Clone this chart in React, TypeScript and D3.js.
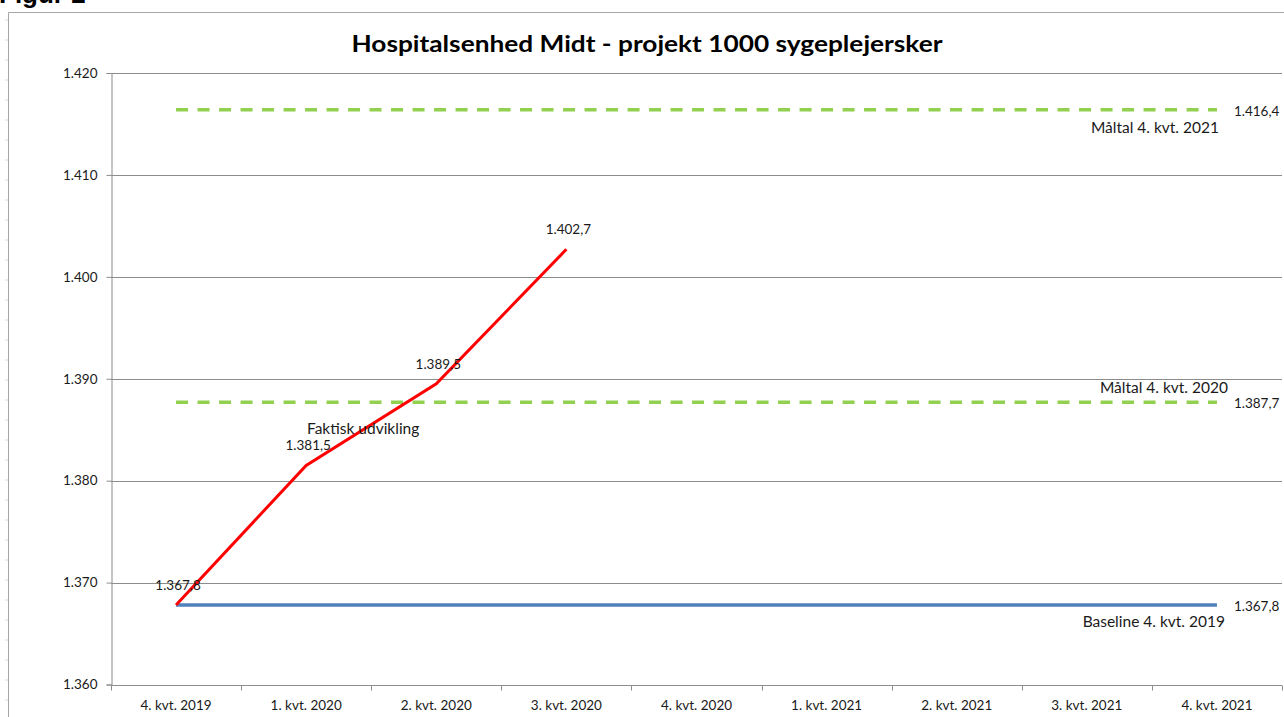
import { useEffect, useRef } from 'react';
import * as d3 from 'd3';

const categories = [
  '4. kvt. 2019', '1. kvt. 2020', '2. kvt. 2020', '3. kvt. 2020', '4. kvt. 2020',
  '1. kvt. 2021', '2. kvt. 2021', '3. kvt. 2021', '4. kvt. 2021',
];
const actual = [1367.8, 1381.5, 1389.5, 1402.7];
const baseline = [1367.8, 1367.8, 1367.8, 1367.8, 1367.8, 1367.8, 1367.8, 1367.8, 1367.8];
const target2020 = [1387.7, 1387.7, 1387.7, 1387.7, 1387.7, 1387.7, 1387.7, 1387.7, 1387.7];
const target2021 = [1416.4, 1416.4, 1416.4, 1416.4, 1416.4, 1416.4, 1416.4, 1416.4, 1416.4];
const yTicks = [1360, 1370, 1380, 1390, 1400, 1410, 1420];

const title = 'Hospitalsenhed Midt - projekt 1000 sygeplejersker';
const FONT = 'Lato, "Open Sans", sans-serif';

const da = d3.formatLocale({ decimal: ',', thousands: '.', grouping: [3], currency: ['', ' kr'] });
const fmt1 = da.format(',.1f');
const fmt0 = da.format(',.0f');

const App = () => {
  const svgRef = useRef<SVGSVGElement>(null);
  const width = 1284;
  const height = 717;

  useEffect(() => {
    if (!svgRef.current) return;
    const svg = d3.select(svgRef.current);
    svg.selectAll('*').remove();

    const x = d3.scaleBand().domain(categories).range([111, 1282]);
    const cx = (c: string) => (x(c) as number) + x.bandwidth() / 2;
    const y = d3.scaleLinear().domain([1360, 1420]).range([684.5, 73]);

    svg.append('rect').attr('width', width).attr('height', height).attr('fill', '#fff');

    // page ruler marks + heading
    for (let i = 20; i < height; i += 20) {
      svg.append('line').attr('x1', 5).attr('x2', 8).attr('y1', i).attr('y2', i)
        .attr('stroke', '#d8d8d8');
    }
    svg.append('text').attr('x', -1).attr('y', 3).attr('font-family', 'Arial, "Liberation Sans", sans-serif')
      .attr('font-weight', 'bold').attr('font-size', 26).text('Figur 2');

    // chart frame
    svg.append('path').attr('d', `M8.5,${height} V12.5 H${width}`)
      .attr('fill', 'none').attr('stroke', '#a6a6a6');

    svg.append('text').attr('x', 647).attr('y', 52).attr('text-anchor', 'middle')
      .attr('font-family', FONT).attr('font-weight', 'bold').attr('font-size', 22)
      .attr('textLength', 591).attr('lengthAdjust', 'spacingAndGlyphs')
      .text(title);

    // gridlines
    svg.append('g').selectAll('line').data(yTicks.slice(1)).join('line')
      .attr('x1', 111).attr('x2', 1282)
      .attr('y1', d => Math.round(y(d)) + 0.5).attr('y2', d => Math.round(y(d)) + 0.5)
      .attr('stroke', '#8c8c8c').attr('stroke-width', 1);

    // y axis
    const yAxis = d3.axisLeft(y).tickValues(yTicks).tickSize(5).tickPadding(9)
      .tickFormat(d => fmt0(d as number));
    const gy = svg.append('g').attr('transform', 'translate(111.5,0)').call(yAxis);
    gy.select('.domain').attr('stroke', '#8c8c8c');
    gy.selectAll('.tick line').attr('stroke', '#8c8c8c');
    gy.selectAll('.tick text').attr('font-family', FONT).attr('font-size', 13.5).attr('fill', '#1a1a1a');

    // x axis
    const gx = svg.append('g').attr('transform', `translate(0,${Math.round(y(1360)) + 0.5})`);
    gx.append('line').attr('x1', 111).attr('x2', 1282).attr('stroke', '#8c8c8c');
    gx.selectAll('line.t').data(categories.concat(['end'])).join('line').attr('class', 't')
      .attr('x1', (d, i) => Math.round(111 + i * x.bandwidth()) + 0.5)
      .attr('x2', (d, i) => Math.round(111 + i * x.bandwidth()) + 0.5)
      .attr('y1', 0).attr('y2', 5).attr('stroke', '#8c8c8c');
    gx.selectAll('text').data(categories).join('text')
      .attr('x', d => cx(d)).attr('y', 24).attr('text-anchor', 'middle')
      .attr('font-family', FONT).attr('font-size', 13.5).attr('fill', '#1a1a1a')
      .text(d => d);

    const line = d3.line<number>().x((d, i) => cx(categories[i])).y(d => y(d));

    const addSeries = (vals: number[], color: string, w: number, dash?: string) => {
      const p = svg.append('path').datum(vals).attr('d', line)
        .attr('fill', 'none').attr('stroke', color).attr('stroke-width', w);
      if (dash) p.attr('stroke-dasharray', dash);
    };
    addSeries(target2021, '#92d050', 3.5, '12,9.5');
    addSeries(target2020, '#92d050', 3.5, '12,9.5');
    addSeries(baseline, '#4f81bd', 3.5);
    addSeries(actual, '#ff0000', 3);

    const lbl = (tx: number, ty: number, t: string, size = 13.5, anchor = 'middle') =>
      svg.append('text').attr('x', tx).attr('y', ty).attr('text-anchor', anchor)
        .attr('dominant-baseline', 'central').attr('font-family', FONT)
        .attr('font-size', size).attr('fill', '#1a1a1a').text(t);

    // data labels on actual series
    actual.forEach((v, i) => lbl(cx(categories[i]) + 2, y(v) - 20, fmt1(v)));

    // end values for horizontal series
    const last = categories[categories.length - 1];
    [target2021, target2020, baseline].forEach(s => {
      const v = s[s.length - 1];
      lbl(cx(last) + 17, y(v) + 1, fmt1(v), 13.5, 'start');
    });

    // series names
    lbl(cx(last) + 2, y(target2021[8]) + 17, 'Måltal 4. kvt. 2021', 15.5, 'end');
    lbl(cx(last) + 11, y(target2020[8]) - 15, 'Måltal 4. kvt. 2020', 15.5, 'end');
    lbl(cx(last) + 8, y(baseline[8]) + 16, 'Baseline 4. kvt. 2019', 15.5, 'end');
    lbl(cx(categories[1]) + 57, y(actual[1]) - 37, 'Faktisk udvikling', 15.5);
  }, []);

  return (
    <div style={{ position: 'fixed', left: 0, top: 0 }}>
      <svg ref={svgRef} width={width} height={height} style={{ display: 'block' }} />
    </div>
  );
};

export default App;
